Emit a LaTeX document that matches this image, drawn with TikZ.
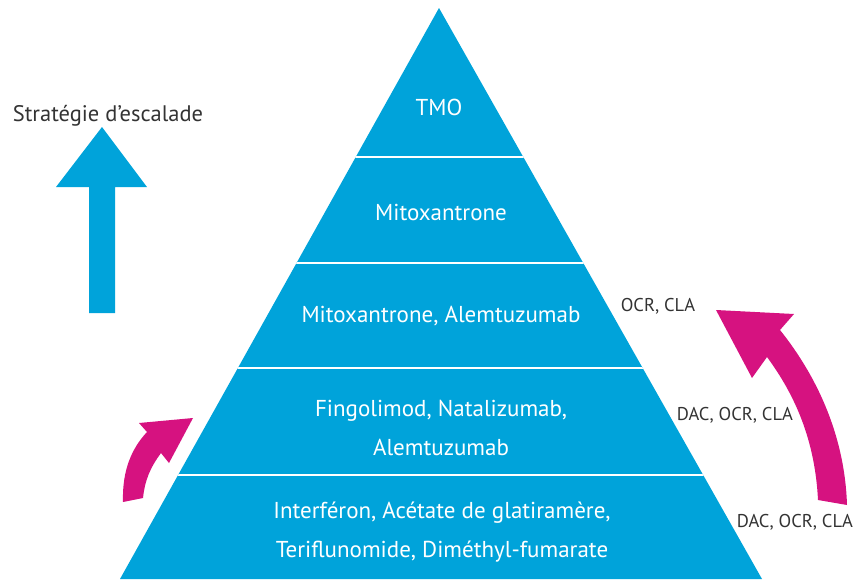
\documentclass[tikz,border=0pt]{standalone}
\usepackage{fontspec}
\setmainfont{PT Sans}
\definecolor{pyrblue}{RGB}{0,163,218}
\definecolor{pyrpink}{RGB}{214,18,128}
\definecolor{txtgray}{RGB}{51,51,51}
\begin{document}
\begin{tikzpicture}[x=1pt,y=-1pt,
    band/.style={text=white,font=\fontsize{23}{39}\selectfont,align=center,inner sep=0pt},
    side/.style={text=txtgray,font=\fontsize{18.5}{20}\selectfont,inner sep=0pt}]
        \useasboundingbox (0,0) rectangle (857,581);
        %金字塔;
            \fill [pyrblue] (439,8) coordinate (apex) -- (762,579) coordinate (bR) -- (120,579) coordinate (bL) -- cycle;
            \begin{scope}
                \clip (apex) -- (bR) -- (bL) -- cycle;
                \foreach \y in {157,263,368,475}
                    \draw [white,line width=2pt] (100,\y) -- (800,\y);
            \end{scope}
        %各层文字
            \node [band] (tmo) at (439,107) {TMO};
            \node [band] (mito) at (441,212) {Mitoxantrone};
            \node [band] (mitoalem) at (441,316) {Mitoxantrone, Alemtuzumab};
            \node [band] (fingo) at (441,428) {Fingolimod, Natalizumab,\\Alemtuzumab};
            \node [band] (inter) at (442,532) {Interféron, Acétate de glatiramère,\\Teriflunomide, Diméthyl-fumarate};
        %右侧标注
            \node [side] (ocr) at (658,306) {OCR, CLA};
            \node [side] (dacmid) at (735,415) {DAC, OCR, CLA};
            \node [side] (daclow) at (795,522) {DAC, OCR, CLA};
        %升级箭头
            \node [text=txtgray,font=\fontsize{22.5}{24}\selectfont,inner sep=0pt] (titre) at (108,116) {Stratégie d’escalade};
            \fill [pyrblue] (89,313) -- (89,187) -- (56,187) -- (102,127) -- (147,187) -- (115,187) -- (115,313) -- cycle;
        %弯箭头
            \fill [pyrpink] (123,502) .. controls (122,470) and (132,448) .. (147,432) -- (139,423) -- (193,418) -- (169,463) -- (161,453) .. controls (150,468) and (145,480) .. (143,498) -- cycle;
            \fill [pyrpink] (818,500) .. controls (815,440) and (795,395) .. (767,357) -- (752,378) -- (716,310) -- (794,314) -- (780,330) .. controls (820,380) and (845,440) .. (847,505) -- cycle;
    \end{tikzpicture}
\end{document}
